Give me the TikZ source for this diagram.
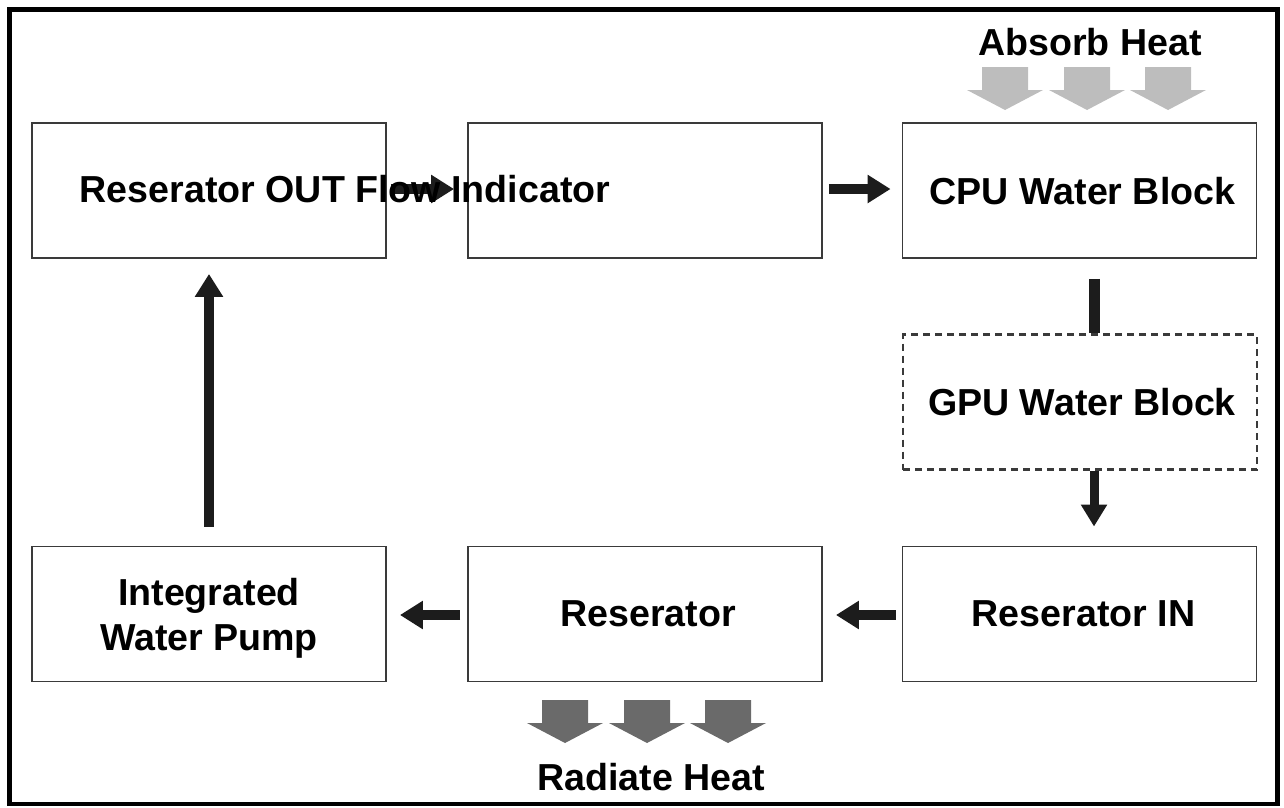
\documentclass[tikz,border=0pt]{standalone}
\usepackage{fontspec}
\setmainfont{Liberation Sans}
\usetikzlibrary{arrows.meta}
\definecolor{boxline}{HTML}{3A3A3A}
\definecolor{conncol}{HTML}{1C1C1C}
\definecolor{absorbgray}{HTML}{BDBDBD}
\definecolor{radiategray}{HTML}{6A6A6A}
\tikzset{
  stagebox/.style={draw=boxline, line width=1.9pt, minimum width=354pt, minimum height=135pt,
    inner sep=0pt, font=\fontsize{37.6}{45}\selectfont\bfseries, align=center, text depth=0pt},
  gpubox/.style={stagebox, line width=2.2pt, dash pattern=on 7pt off 5pt},
  lbl/.style={font=\fontsize{37.6}{45}\selectfont\bfseries, inner sep=0pt},
  conn/.style={draw=conncol, line width=10pt, -{Triangle[length=23pt,width=27pt]}},
  plainconn/.style={draw=conncol, line width=11pt},
}
\begin{document}
\begin{tikzpicture}[x=1pt,y=-1pt]
\useasboundingbox (0,0) rectangle (1284,807);
\draw[line width=4.5pt, black] (9.5,9.5) rectangle (1277.5,804);

% boxes
\node[stagebox] (out) at (209,190.5) {};
\node[stagebox] (flow) at (645,190.5) {};
\node[stagebox] (cpu) at (1079.5,190.5) {\hspace*{6pt}CPU Water Block};
\node[gpubox] (gpu) at (1080,402) {\hspace*{4pt}GPU Water Block};
\node[stagebox] (resin) at (1079.5,614) {\hspace*{8pt}Reserator IN};
\node[stagebox] (res) at (645,614) {\hspace*{6pt}Reserator};
\node[stagebox] (pump) at (209,614) {Integrated\\Water Pump};

% connectors
\draw[conn, shorten <=19pt, shorten >=15pt] (pump.north) -- (out.south);
\draw[conn, shorten <=6pt, shorten >=11pt] ([yshift=1.5pt]flow.east) -- ([yshift=1.5pt]cpu.west);
\draw[conn, shorten <=4pt, shorten >=13pt] ([yshift=1.5pt]out.east) -- ([yshift=1.5pt]flow.west);
\draw[plainconn, shorten <=20pt] ([xshift=14.5pt]cpu.south) -- ([xshift=14pt]gpu.north);
\draw[conn, line width=9pt, -{Triangle[length=22pt,width=25pt]}, shorten >=19pt] ([xshift=14pt]gpu.south) -- ([xshift=14.5pt]resin.north);
\draw[conn, shorten <=6pt, shorten >=13pt] ([yshift=-1pt]resin.west) -- ([yshift=-1pt]res.east);
\draw[conn, shorten <=7pt, shorten >=13pt] ([yshift=-1pt]res.west) -- ([yshift=-1pt]pump.east);

% label overlapping the first two boxes
\node[lbl, anchor=base] (outlabel) at (345,202) {Reserator OUT Flow Indicator};

% heat arrows
\foreach \c in {1005,1087,1168}
  \fill[absorbgray] (\c-23,67) -- (\c+23,67) -- (\c+23,90) -- (\c+38,90) -- (\c,110) -- (\c-38,90) -- (\c-23,90) -- cycle;
\foreach \c in {565,647,728}
  \fill[radiategray] (\c-23,700) -- (\c+23,700) -- (\c+23,723) -- (\c+38,723) -- (\c,743) -- (\c-38,723) -- (\c-23,723) -- cycle;

\node[lbl, anchor=base] (absorb) at (1090,55) {Absorb Heat};
\node[lbl, anchor=base] (radiate) at (651,790) {Radiate Heat};
\end{tikzpicture}
\end{document}
